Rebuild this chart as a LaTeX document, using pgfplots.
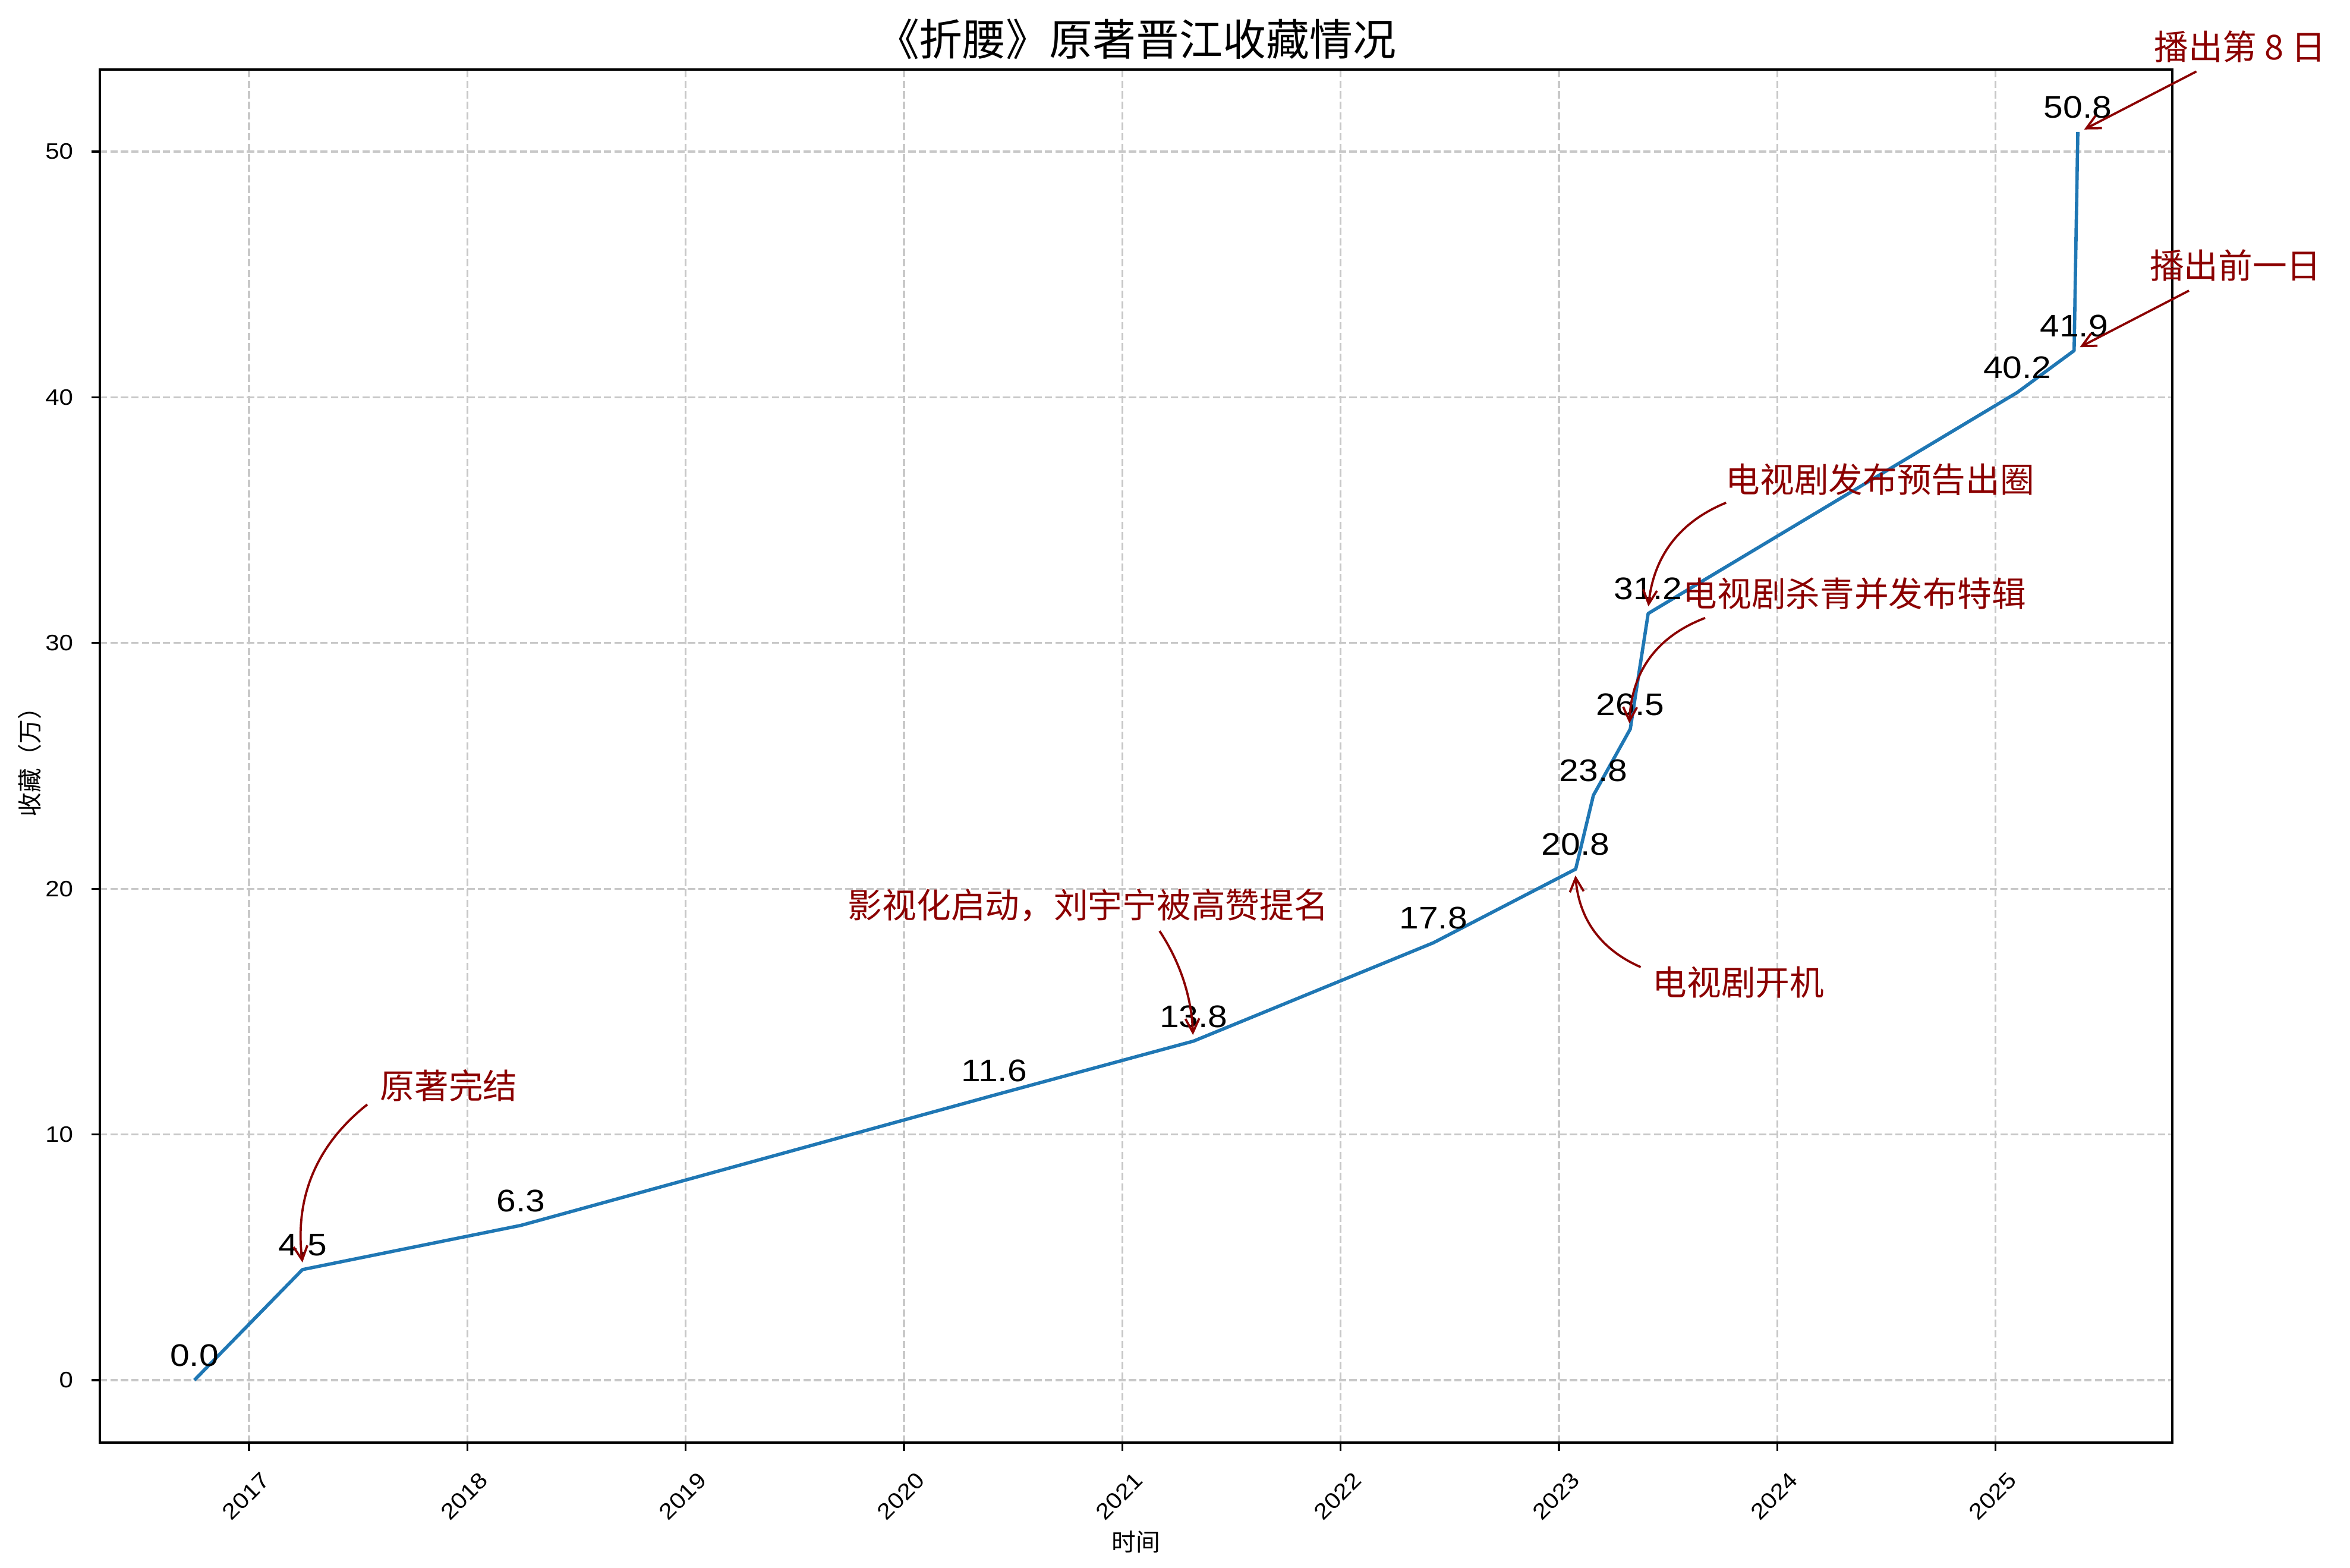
\documentclass[border=0pt]{standalone}
\usepackage{pgfplots}
\pgfplotsset{compat=1.18}
\usepackage{pgfplotstable}
\usepackage{fontspec}
\setmainfont{Liberation Sans}
\newfontfamily\cjk{Noto Sans CJK SC}
\newfontfamily\numfont[FakeStretch=1.12]{Liberation Sans}
\usetikzlibrary{calc,arrows.meta}
\definecolor{mplblue}{HTML}{1F77B4}
\definecolor{darkred}{HTML}{8B0000}
\definecolor{gridgray}{HTML}{C8C8C8}

\pgfplotstableread{
x y
2016.750 0.0
2017.245 4.5
2018.246 6.3
2020.414 11.6
2021.327 13.8
2022.425 17.8
2023.077 20.8
2023.158 23.8
2023.327 26.5
2023.409 31.2
2025.100 40.2
2025.360 41.9
2025.377 50.8
}\datatable

% curved arrow: start, end, factor (=2*rad), angle (-90 for rad>0, 90 for rad<0)
\newcommand{\annarrow}[4]{%
  \coordinate (aM) at ($(#1)!0.5!(#2)$);
  \coordinate (aC) at ($(aM)!#3!#4:(#2)$);
  \draw[darkred, line width=0.9pt, -{Straight Barb[length=5.6pt,width=5.6pt]}]
    (#1) .. controls ($(#1)!0.6667!(aC)$) and ($(#2)!0.6667!(aC)$) .. (#2);
}

\begin{document}
\begin{tikzpicture}
\path[use as bounding box] (0,0) rectangle (948.96pt,633.12pt);
\begin{axis}[
  at={(40.32pt,50.64pt)}, anchor=south west,
  scale only axis, width=836.9pt, height=554.4pt,
  xmin=2016.317, xmax=2025.810, ymin=-2.54, ymax=53.34,
  xtick={2017,2018,2019,2020,2021,2022,2023,2024,2025},
  ytick={0,10,20,30,40,50},
  tick pos=left, tick align=outside, major tick length=3.4pt,
  every tick/.style={black, line width=0.8pt},
  axis line style={line width=0.8pt},
  grid=major,
  major grid style={gridgray, line width=0.8pt, dash pattern=on 2.96pt off 1.28pt},
  /pgf/number format/assume math mode=true,
  /pgf/number format/1000 sep={},
  tick label style={font=\numfont\fontsize{9}{10}\selectfont},
  xticklabel style={yshift=-18.2pt, xshift=-1.2pt, rotate=45, anchor=center, inner sep=0pt},
  yticklabel style={anchor=east, inner sep=0pt, xshift=-7.2pt},
  clip=false,
]
\addplot[mplblue, line width=1.35pt, line join=round, mark=none,
  point meta=y,
  nodes near coords={\pgfmathprintnumber[fixed,fixed zerofill,precision=1,assume math mode=true]{\pgfplotspointmeta}},
  nodes near coords style={font=\numfont\fontsize{12.6}{14}\selectfont, text=black, anchor=south, inner sep=0pt, yshift=4.8pt}
] table[x=x,y=y] {\datatable};

\coordinate (t1) at (axis cs:2017.599,11.99);
\coordinate (t2) at (axis cs:2019.742,19.32);
\coordinate (t3) at (axis cs:2023.427,16.20);
\coordinate (t4) at (axis cs:2023.566,32.01);
\coordinate (t5) at (axis cs:2023.762,36.65);
\coordinate (t6) at (axis cs:2025.704,45.37);
\coordinate (t7) at (axis cs:2025.724,54.26);

\coordinate (s1) at (axis cs:2017.542,11.22);
\coordinate (e1) at (axis cs:2017.245,4.79);
\coordinate (s2) at (axis cs:2021.171,18.28);
\coordinate (e2) at (axis cs:2021.324,14.05);
\coordinate (s3) at (axis cs:2023.375,16.81);
\coordinate (e3) at (axis cs:2023.076,20.54);
\coordinate (s4) at (axis cs:2023.670,31.02);
\coordinate (e4) at (axis cs:2023.323,26.73);
\coordinate (s5) at (axis cs:2023.766,35.71);
\coordinate (e5) at (axis cs:2023.410,31.49);
\coordinate (s6) at (axis cs:2025.886,44.34);
\coordinate (e6) at (axis cs:2025.386,42.04);
\coordinate (s7) at (axis cs:2025.920,53.26);
\coordinate (e7) at (axis cs:2025.406,50.90);
\end{axis}

% title and axis labels
\node[font=\cjk\fontsize{17.5}{20}\selectfont, inner sep=0pt] at (458.77pt,617.3pt) {《折腰》原著晋江收藏情况};
\node[font=\cjk\fontsize{9.8}{12}\selectfont, inner sep=0pt] at (458.77pt,10.6pt) {时间};
\node[font=\cjk\fontsize{9.8}{12}\selectfont, inner sep=0pt, rotate=90] at (12pt,327.84pt) {收藏（万）};

% annotations
\begin{scope}[every node/.style={font=\cjk\fontsize{13.85}{16}\selectfont, text=darkred, inner sep=0pt, anchor=west}]
\node at (t1) {原著完结};
\node at (t2) {影视化启动，刘宇宁被高赞提名};
\node at (t3) {电视剧开机};
\node at (t4) {电视剧杀青并发布特辑};
\node at (t5) {电视剧发布预告出圈};
\node at (t6) {播出前一日};
\node at (t7) {播出第 8 日};
\end{scope}

\annarrow{s1}{e1}{0.56}{-90}
\annarrow{s2}{e2}{0.28}{90}
\annarrow{s3}{e3}{0.6}{90}
\annarrow{s4}{e4}{0.66}{-90}
\annarrow{s5}{e5}{0.6}{-90}
\draw[darkred, line width=0.9pt, -{Straight Barb[length=5.6pt,width=5.6pt]}] (s6) -- (e6);
\draw[darkred, line width=0.9pt, -{Straight Barb[length=5.6pt,width=5.6pt]}] (s7) -- (e7);
\end{tikzpicture}
\end{document}
